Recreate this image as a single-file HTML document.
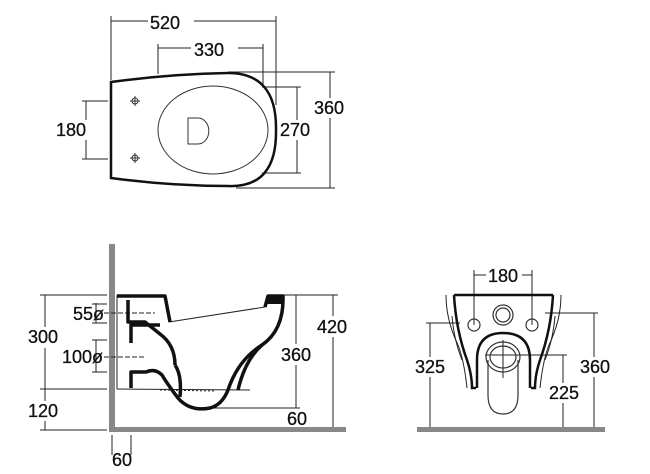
<!DOCTYPE html>
<html><head><style>body{margin:0;background:#fff}svg{display:block}text{font-family:"Liberation Sans",sans-serif;font-size:18px;fill:#111;stroke:#111;stroke-width:0.3}</style></head><body>
<svg width="650" height="474" viewBox="0 0 650 474" xmlns="http://www.w3.org/2000/svg">
<g stroke="#222" stroke-width="1" fill="none">
<line x1="111" y1="21" x2="276" y2="21"/><line x1="111" y1="16" x2="111" y2="80"/><line x1="276" y1="16" x2="276" y2="105"/>
<line x1="158" y1="48" x2="263" y2="48"/><line x1="158" y1="44" x2="158" y2="74"/><line x1="263" y1="44" x2="263" y2="85"/>
<line x1="330" y1="72" x2="330" y2="188"/><line x1="228" y1="72" x2="335" y2="72"/><line x1="236" y1="188" x2="335" y2="188"/>
<line x1="297" y1="87" x2="297" y2="173"/><line x1="262" y1="87" x2="301" y2="87"/><line x1="262" y1="173" x2="301" y2="173"/>
<line x1="86" y1="101" x2="86" y2="159"/><line x1="82" y1="101" x2="108" y2="101"/><line x1="82" y1="159" x2="108" y2="159"/>
</g>
<path d="M111,82 Q170,74 228,73 Q277,73 276,130 Q277,188 228,186 Q170,186 111,178 Z" fill="none" stroke="#111" stroke-width="2.5"/>
<ellipse cx="213" cy="130" rx="55" ry="44" fill="none" stroke="#333" stroke-width="1"/>
<path d="M188,118 h10 a10,12 0 0 1 0,26 h-10 z" fill="none" stroke="#333" stroke-width="1"/>
<g stroke="#333" stroke-width="1" fill="none"><circle cx="135" cy="101" r="3"/><line x1="130" y1="101" x2="140" y2="101"/><line x1="135" y1="96" x2="135" y2="106"/>
<circle cx="135" cy="158" r="3"/><line x1="130" y1="158" x2="140" y2="158"/><line x1="135" y1="153" x2="135" y2="163"/></g>
<g fill="#fff">
<rect x="148" y="12" width="46" height="18"/><rect x="191" y="39" width="47" height="18"/>
<rect x="312" y="98" width="36" height="20"/><rect x="279" y="120" width="35" height="20"/><rect x="54" y="120" width="36" height="20"/>
<rect x="315" y="317" width="36" height="20"/><rect x="279" y="345" width="35" height="20"/>
<rect x="486" y="266" width="36" height="18"/><rect x="413" y="357" width="36" height="20"/><rect x="578" y="357" width="36" height="20"/><rect x="547" y="383" width="36" height="20"/>
</g>
<text x="150" y="29">520</text><text x="194" y="56">330</text>
<text x="314" y="114">360</text><text x="280" y="136">270</text><text x="56" y="136">180</text>

<!-- side view -->
<rect x="109" y="244" width="6" height="188" fill="#888"/>
<rect x="109" y="427" width="237" height="5" fill="#888"/>
<g stroke="#222" stroke-width="1" fill="none">
<line x1="45" y1="295" x2="45" y2="327"/><line x1="45" y1="348" x2="45" y2="401"/><line x1="45" y1="421" x2="45" y2="430"/>
<line x1="40" y1="295" x2="107" y2="295"/><line x1="40" y1="389" x2="107" y2="389"/><line x1="40" y1="430" x2="107" y2="430"/>
<line x1="333" y1="295" x2="333" y2="316"/><line x1="333" y1="337" x2="333" y2="427"/><line x1="284" y1="295" x2="338" y2="295"/>
<line x1="296" y1="295" x2="296" y2="344"/><line x1="296" y1="365" x2="296" y2="408"/><line x1="205" y1="408" x2="300" y2="408"/>
<line x1="112" y1="435" x2="112" y2="455"/><line x1="131" y1="435" x2="131" y2="455"/>
<line x1="96" y1="303" x2="96" y2="323"/><line x1="92" y1="304" x2="107" y2="304"/><line x1="92" y1="323" x2="107" y2="323"/>
<line x1="96" y1="340" x2="96" y2="372"/><line x1="92" y1="340" x2="107" y2="340"/><line x1="92" y1="372" x2="107" y2="372"/>
<line x1="104" y1="313" x2="155" y2="313" stroke-dasharray="5,2"/><line x1="104" y1="357" x2="145" y2="357" stroke-dasharray="5,2"/>
<line x1="117" y1="295" x2="117" y2="389"/><line x1="117" y1="389" x2="250" y2="390"/>
<line x1="169" y1="322" x2="265" y2="307"/>
<line x1="160" y1="390" x2="214" y2="391" stroke-dasharray="2,2"/>
</g>
<g stroke="#111" stroke-width="3.5" fill="none" stroke-linejoin="round">
<path d="M117,296 H165 L170,322"/>
<path d="M265,307 L268,296 H283 Q284,330 262,345 Q238,360 228,390 Q222,405 210,408 Q190,412 178,398 Q168,385 162,375 Q155,368 146,372 L131,372 V388"/>
<path d="M262,345 Q245,360 238,390"/>
<path d="M128,300 V322 H145 Q150,326 160,334 Q175,345 175,365"/>
<path d="M131,343 V325 H160"/>
<path d="M175,365 Q182,375 180,397"/>
</g>
<rect x="266" y="296" width="17" height="8" fill="#111"/>
<text x="73" y="320">55ø</text><text x="62" y="363">100ø</text>
<text x="28" y="343">300</text><text x="28" y="417">120</text><text x="317" y="333">420</text>
<text x="281" y="361">360</text><text x="287" y="425">60</text><text x="112" y="466">60</text>

<!-- front view -->
<rect x="417" y="427" width="188" height="5" fill="#888"/>
<g stroke="#222" stroke-width="1" fill="none">
<line x1="474" y1="275" x2="486" y2="275"/><line x1="522" y1="275" x2="532" y2="275"/><line x1="474" y1="270" x2="474" y2="325"/><line x1="532" y1="270" x2="532" y2="325"/>
<line x1="430" y1="323" x2="430" y2="357"/><line x1="430" y1="377" x2="430" y2="427"/><line x1="426" y1="323" x2="460" y2="323"/>
<line x1="594" y1="313" x2="594" y2="357"/><line x1="594" y1="377" x2="594" y2="427"/><line x1="545" y1="313" x2="598" y2="313"/>
<line x1="563" y1="355" x2="563" y2="383"/><line x1="563" y1="403" x2="563" y2="427"/><line x1="485" y1="355" x2="567" y2="355"/>
<line x1="503" y1="340" x2="503" y2="378"/>
<path d="M446,295 Q446,320 458,345 Q464,360 467,388"/>
<path d="M561,295 Q561,320 549,345 Q543,360 540,388"/>
<path d="M452,316 Q454,340 462,360"/><path d="M555,316 Q553,340 545,360"/>
</g>
<g stroke="#111" stroke-width="2.5" fill="none">
<path d="M454,295 H553"/>
<path d="M454,295 Q456,330 467,360 Q472,375 472,388 H476"/>
<path d="M553,295 Q551,330 540,360 Q535,375 535,388 H531"/>
<path d="M477,388 V360 Q477,333 503,333 Q530,333 530,360 V388"/>
</g>
<g stroke="#333" stroke-width="1.2" fill="none">
<circle cx="503" cy="315" r="10"/><circle cx="503" cy="315" r="7"/>
<circle cx="474" cy="325" r="6"/><circle cx="532" cy="325" r="6"/>
<path d="M488,360 V395 Q488,414 503,414 Q518,414 518,395 V360"/>
<ellipse cx="503" cy="357" rx="17" ry="15"/><ellipse cx="503" cy="357" rx="13" ry="11"/>
</g>
<text x="488" y="282">180</text>
<text x="415" y="373">325</text><text x="580" y="373">360</text><text x="549" y="399">225</text>
</svg>
</body></html>
